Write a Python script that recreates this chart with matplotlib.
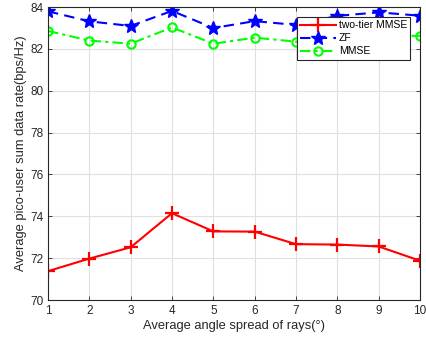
import matplotlib
matplotlib.use("Agg")
import matplotlib.pyplot as plt

x = [1, 2, 3, 4, 5, 6, 7, 8, 9, 10]
two_tier = [71.38, 71.98, 72.52, 74.15, 73.28, 73.27, 72.67, 72.65, 72.56, 71.88]
zf = [83.80, 83.32, 83.10, 83.82, 83.00, 83.33, 83.15, 83.58, 83.75, 83.59]
mmse = [82.86, 82.40, 82.25, 83.03, 82.25, 82.54, 82.35, 82.50, 82.60, 82.63]
xticks = [1, 2, 3, 4, 5, 6, 7, 8, 9, 10]
yticks = [70, 72, 74, 76, 78, 80, 82, 84]

plt.rcParams['font.family'] = ['Liberation Sans', 'DejaVu Sans']
fig = plt.figure(figsize=(4.26, 3.39), dpi=100)
ax = fig.add_axes([0.1127, 0.115, 0.873, 0.864])

ax.plot(x, two_tier, color='#ff0000', lw=1.5, marker='+', ms=10, mew=1.6, label='two-tier MMSE')
ax.plot(x, zf, color='#0000ff', lw=1.5, ls=(0, (5, 3)), marker='*', ms=10.5, label='ZF')
ax.plot(x, mmse, color='#00ff00', lw=1.5, ls=(0, (5, 2, 1.5, 2)), marker='o', ms=6, mew=1.5,
        mfc='none', label='MMSE')

ax.set_xlim(1, 10)
ax.set_ylim(70, 84)
ax.set_xticks(xticks)
ax.set_yticks(yticks)
ax.grid(True, color='#e0e0e0', lw=0.8)
ax.set_axisbelow(True)
for s in ax.spines.values():
    s.set_color('#262626')
    s.set_linewidth(0.8)
ax.tick_params(direction='in', length=3, width=0.6, colors='#262626', labelsize=8.5,
               top=True, right=True)
ax.set_xlabel('Average angle spread of rays(°)', fontsize=9.3, color='#262626', labelpad=2)
ax.set_ylabel('Average pico-user sum data rate(bps/Hz)', fontsize=9.3, color='#262626', labelpad=2)

leg = ax.legend(loc='upper right', bbox_to_anchor=(0.974, 0.966), fontsize=7.5, fancybox=False,
                framealpha=1, edgecolor='#262626', borderpad=0.3, labelspacing=0.3,
                handlelength=3.4, handletextpad=0.3, borderaxespad=0)
leg.get_frame().set_linewidth(0.8)

fig.savefig('out.png', dpi=100)
